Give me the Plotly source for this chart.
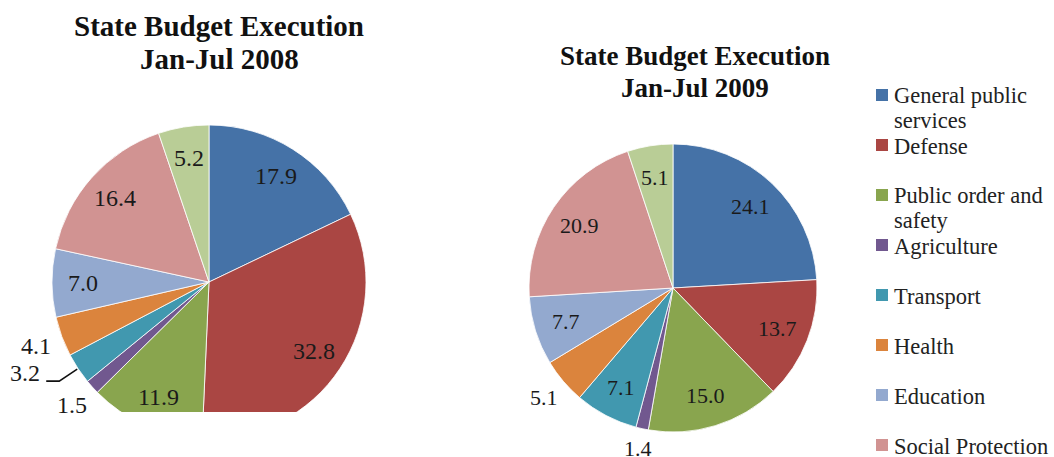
import math
import textwrap
import plotly.graph_objects as go

categories = ["General public services", "Defense", "Public order and safety",
              "Agriculture", "Transport", "Health", "Education",
              "Social Protection", "Others"]
values_2008 = [17.9, 32.8, 11.9, 1.5, 3.2, 4.1, 7.0, 16.4, 5.2]
values_2009 = [24.1, 13.7, 15.0, 1.4, 7.1, 5.1, 7.7, 20.9, 5.1]
colors = ["#4572A7", "#AA4643", "#89A54E", "#71588F", "#4198AF",
          "#DB843D", "#93A9CF", "#D19392", "#B9CD96"]
title_2008 = ["State Budget Execution", "Jan-Jul 2008"]
title_2009 = ["State Budget Execution", "Jan-Jul 2009"]

# label placement style: "in" = inside slice, "out" = outside
place_2008 = ["in", "in", "in", "out", "out", "out", "in", "in", "in"]
place_2009 = ["in", "in", "in", "out", "in", "out", "in", "in", "in"]

W, H = 1054, 457
FONT = "Liberation Serif"
TXT = "#1a1a1a"


def px(x):
    return x / W


def py(y):
    return 1 - y / H


fig = go.Figure()
annotations = []
shapes = []


def add_pie(vals, place, cx, cy, r, size, in_frac, leader=None):
    fig.add_trace(go.Pie(
        labels=categories, values=vals, sort=False, direction="clockwise",
        rotation=0, marker=dict(colors=colors, line=dict(color="white", width=0.8)),
        textinfo="none", showlegend=False, hoverinfo="label+value",
        domain=dict(x=[px(cx - r), px(cx + r)], y=[py(cy + r), py(cy - r)]),
    ))
    total = sum(vals)
    cum = 0.0
    for i, (v, p) in enumerate(zip(vals, place)):
        a = 2 * math.pi * (cum + v / 2) / total
        cum += v
        s, c = math.sin(a), math.cos(a)
        txt = "%.1f" % v
        if leader is not None and leader[0] == i:
            # label pulled away from the slice with a bent leader line
            ex, ey = cx + (r + 1) * s, cy - (r + 1) * c
            lx, ly = ex + leader[1], ey + leader[2]
            shapes.append(dict(type="path", xref="paper", yref="paper", layer="above",
                               path="M %f,%f L %f,%f L %f,%f" % (
                                   px(ex), py(ey), px(ex - 18), py(ey + 12),
                                   px(lx + 21), py(ey + 12)),
                               line=dict(color="#111111", width=1.6)))
            x, y = lx, ly
        elif p == "in":
            d = in_frac * r
            x, y = cx + d * s, cy - d * c
        else:
            w = size * (0.5 * (len(txt) - 1) + 0.25)
            h = size * 0.7
            d = r + 0.5 * (abs(s) * w + abs(c) * h) + 10
            x, y = cx + d * s, cy - d * c
        annotations.append(dict(text=txt, x=px(x), y=py(y), xref="paper", yref="paper",
                                xanchor="center", yanchor="middle", showarrow=False,
                                font=dict(family=FONT, size=size, color=TXT)))


add_pie(values_2008, place_2008, 209, 282, 157, 24, 0.80, leader=(4, -52, 4))
add_pie(values_2009, place_2009, 673, 288, 144, 22, 0.78)

# titles
for i, line in enumerate(title_2008):
    annotations.append(dict(text="<b>%s</b>" % line, x=px(219), y=py(26 + 33 * i),
                            xref="paper", yref="paper", showarrow=False,
                            xanchor="center", yanchor="middle",
                            font=dict(family=FONT, size=29, color="#111111")))
for i, line in enumerate(title_2009):
    annotations.append(dict(text="<b>%s</b>" % line, x=px(695), y=py(56 + 32 * i),
                            xref="paper", yref="paper", showarrow=False,
                            xanchor="center", yanchor="middle",
                            font=dict(family=FONT, size=27, color="#111111")))

# legend (manual, evenly spaced like the source)
leg_x, leg_y0, leg_step, line_step, sq = 882, 95, 50, 24, 12
for i, (name, col) in enumerate(zip(categories, colors)):
    cy = leg_y0 + i * leg_step
    if cy > H:
        break
    shapes.append(dict(type="rect", xref="paper", yref="paper",
                       x0=px(leg_x - sq / 2), x1=px(leg_x + sq / 2),
                       y0=py(cy + sq / 2), y1=py(cy - sq / 2),
                       fillcolor=col, line=dict(width=0)))
    for j, line in enumerate(textwrap.wrap(name, 17)):
        annotations.append(dict(text=line, x=px(leg_x + 10), y=py(cy + 1 + j * line_step),
                                xref="paper", yref="paper", showarrow=False,
                                xanchor="left", yanchor="middle",
                                font=dict(family=FONT, size=22.5, color="#222222")))

# the left chart area is cut off at the bottom in the source
shapes.append(dict(type="rect", xref="paper", yref="paper", layer="above",
                   x0=0, x1=px(440), y0=0, y1=py(412),
                   fillcolor="white", line=dict(width=0)))

fig.update_layout(width=W, height=H, margin=dict(l=0, r=0, t=0, b=0),
                  paper_bgcolor="white", plot_bgcolor="white",
                  showlegend=False, annotations=annotations, shapes=shapes)

fig.write_html("out.html", config={"displayModeBar": False},
               post_script="document.body.style.margin='0';")
